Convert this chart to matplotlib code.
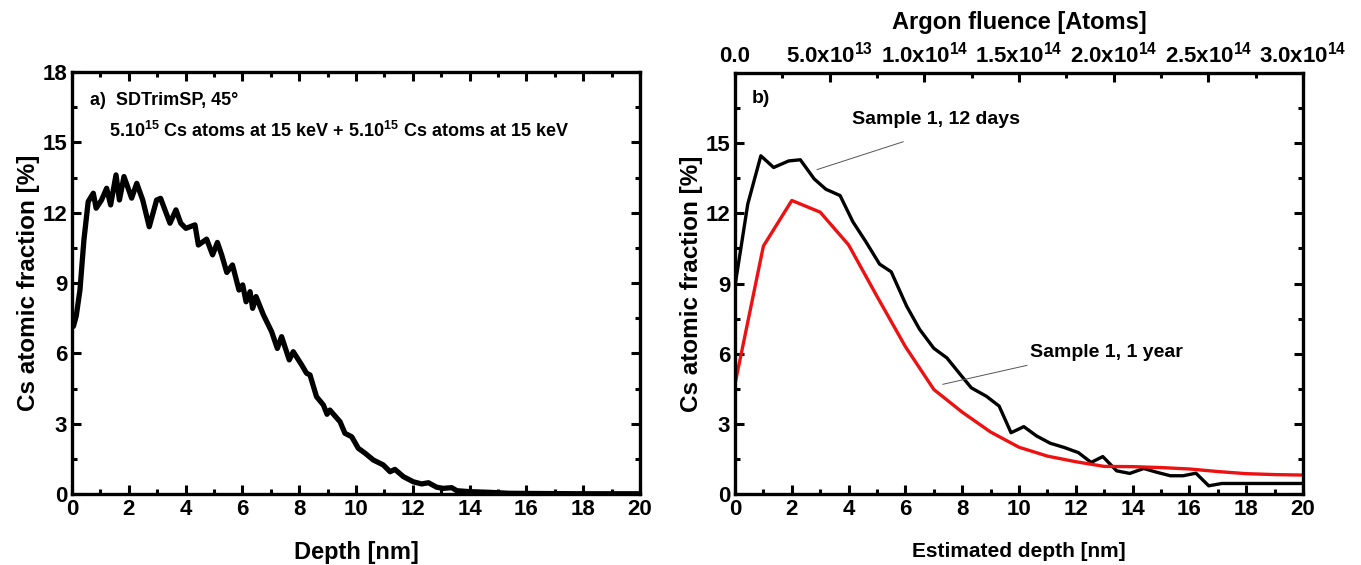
import matplotlib
matplotlib.use("Agg")
import matplotlib.pyplot as plt
from matplotlib.ticker import MultipleLocator, FixedLocator

plt.rcParams['font.family'] = ['Liberation Sans', 'DejaVu Sans']
plt.rcParams['font.weight'] = 'bold'
plt.rcParams['mathtext.fontset'] = 'custom'
plt.rcParams['mathtext.rm'] = 'Liberation Sans:bold'
plt.rcParams['mathtext.bf'] = 'Liberation Sans:bold'
plt.rcParams['mathtext.it'] = 'Liberation Sans:bold'

# ---- Panel a) SDTrimSP simulation ----
sim_depth = [0.0, 0.05, 0.15, 0.28, 0.42, 0.57, 0.75, 0.85, 1.04, 1.22, 1.36, 1.55, 1.67,
             1.83, 2.1, 2.28, 2.49, 2.72, 2.98, 3.12, 3.45, 3.66, 3.83, 4.01, 4.33, 4.45,
             4.74, 4.95, 5.12, 5.27, 5.45, 5.65, 5.88, 6.01, 6.13, 6.27, 6.36, 6.48, 6.74,
             7.03, 7.23, 7.38, 7.65, 7.79, 8.09, 8.26, 8.38, 8.61, 8.85, 8.98, 9.08, 9.44,
             9.61, 9.85, 10.08, 10.32, 10.61, 10.96, 11.2, 11.37, 11.67, 12.02, 12.31,
             12.55, 12.84, 13.07, 13.37, 13.55, 14.01, 14.72, 15.4, 16.5, 18.0, 20.0]
sim_frac = [7.4, 7.15, 7.6, 8.7, 10.84, 12.47, 12.83, 12.19, 12.54, 13.04, 12.33, 13.61, 12.54,
            13.54, 12.62, 13.25, 12.54, 11.4, 12.54, 12.61, 11.55, 12.12, 11.55, 11.33, 11.48,
            10.62, 10.87, 10.2, 10.73, 10.2, 9.45, 9.77, 8.7, 8.92, 8.2, 8.63, 7.92, 8.42, 7.64,
            6.92, 6.21, 6.71, 5.72, 6.07, 5.5, 5.15, 5.08, 4.15, 3.8, 3.4, 3.58, 3.08,
            2.59, 2.44, 1.95, 1.74, 1.45, 1.24, 0.95, 1.05, 0.74, 0.52, 0.43,
            0.48, 0.29, 0.24, 0.27, 0.14, 0.1, 0.07, 0.03, 0.02, 0.01, 0.01]

# ---- Panel b) measured profiles ----
days12_depth = [0.0, 0.45, 0.91, 1.36, 1.89, 2.3, 2.79, 3.2, 3.7, 4.15, 4.6, 5.09, 5.5, 6.04,
                6.5, 7.0, 7.46, 7.94, 8.32, 8.85, 9.3, 9.72, 10.17, 10.62, 11.1, 11.59,
                12.09, 12.54, 12.95, 13.44, 13.9, 14.39, 14.88, 15.33, 15.78, 16.23, 16.68,
                17.14, 20.0]
days12_frac = [8.9, 12.4, 14.46, 13.96, 14.24, 14.29, 13.47, 13.03, 12.76, 11.64, 10.8, 9.83,
               9.5, 8.04, 7.04, 6.23, 5.82, 5.1, 4.54, 4.18, 3.76, 2.62, 2.88, 2.48, 2.17,
               1.99, 1.77, 1.35, 1.6, 0.99, 0.88, 1.09, 0.92, 0.78, 0.78, 0.89, 0.35, 0.45, 0.45]
year1_depth = list(range(0, 21))
year1_frac = [4.7, 10.6, 12.55, 12.05, 10.65, 8.45, 6.3, 4.47, 3.5, 2.65, 2.0, 1.62, 1.38,
              1.18, 1.17, 1.13, 1.07, 0.96, 0.87, 0.83, 0.81]

fluence_ticks = [0.0, 5.0e13, 1.0e14, 1.5e14, 2.0e14, 2.5e14, 3.0e14]
fluence_labels = ['0.0', '5.0x10$^{13}$', '1.0x10$^{14}$', '1.5x10$^{14}$',
                  '2.0x10$^{14}$', '2.5x10$^{14}$', '3.0x10$^{14}$']
y_ticks = [0, 3, 6, 9, 12, 15, 18]
y_ticks_b = [0, 3, 6, 9, 12, 15]
x_ticks = [0, 2, 4, 6, 8, 10, 12, 14, 16, 18, 20]

W, H = 1361, 565
fig = plt.figure(figsize=(W / 100, H / 100), dpi=100)

def px_axes(l, t, r, b):
    return fig.add_axes([l / W, 1 - b / H, (r - l) / W, (b - t) / H])

TICK_FS = 16
LABEL_FS = 17

def style(ax):
    for s in ax.spines.values():
        s.set_linewidth(2.4)
    ax.tick_params(which='both', direction='in', top=True, right=True, width=2.2,
                   labelsize=TICK_FS)
    ax.tick_params(which='major', length=6.5)
    ax.tick_params(which='minor', length=3.5)
    ax.xaxis.set_minor_locator(MultipleLocator(1))
    ax.yaxis.set_minor_locator(MultipleLocator(1.5))
    for lab in ax.get_xticklabels() + ax.get_yticklabels():
        lab.set_fontweight('bold')

# Panel a
axa = px_axes(72, 72, 640, 494)
axa.plot(sim_depth, sim_frac, color='black', lw=3.8, solid_joinstyle='round')
axa.set_xlim(0, 20)
axa.set_ylim(0, 18)
axa.set_xticks(x_ticks)
axa.set_yticks(y_ticks)
style(axa)
axa.set_xlabel('Depth [nm]', fontsize=LABEL_FS, fontweight='bold', labelpad=15)
axa.set_ylabel('Cs atomic fraction [%]', fontsize=LABEL_FS + 0.5, fontweight='bold', labelpad=2)
axa.text(0.032, 0.932, 'a)  SDTrimSP, 45°', transform=axa.transAxes, fontsize=13,
         fontweight='bold', va='center', ha='left')
axa.text(0.066, 0.86, '5.10$^{15}$ Cs atoms at 15 keV + 5.10$^{15}$ Cs atoms at 15 keV',
         transform=axa.transAxes, fontsize=13, fontweight='bold', va='center', ha='left')

# Panel b
axb = px_axes(735, 73, 1303, 494)
axb.plot(days12_depth, days12_frac, color='black', lw=2.4)
axb.plot(year1_depth, year1_frac, color='#ee1111', lw=2.4)
axb.set_xlim(0, 20)
axb.set_ylim(0, 18)
axb.set_xticks(x_ticks)
axb.set_yticks(y_ticks_b)
style(axb)
axb.set_xlabel('Estimated depth [nm]', fontsize=15, fontweight='bold', labelpad=16)
axb.set_ylabel('Cs atomic fraction [%]', fontsize=LABEL_FS + 0.5, fontweight='bold', labelpad=2)
axb.text(0.03, 0.94, 'b)', transform=axb.transAxes, fontsize=14, fontweight='bold',
         va='center', ha='left')
axb.text(4.12, 16.0, 'Sample 1, 12 days', fontsize=14, fontweight='bold', va='center', ha='left')
axb.plot([5.92, 2.89], [15.06, 13.87], color='#555555', lw=0.7)
axb.text(10.39, 6.06, 'Sample 1, 1 year', fontsize=14, fontweight='bold', va='center', ha='left')
axb.plot([10.28, 7.32], [5.5, 4.69], color='#555555', lw=0.7)

top = axb.twiny()
top.set_xlim(0, 3.0e14)
top.xaxis.set_major_locator(FixedLocator(fluence_ticks))
top.set_xticklabels(fluence_labels)
top.xaxis.set_minor_locator(MultipleLocator(2.5e13))
top.tick_params(which='both', direction='in', width=2.2, labelsize=TICK_FS, pad=4)
top.tick_params(which='major', length=6.5)
top.tick_params(which='minor', length=3.5)
for lab in top.get_xticklabels():
    lab.set_fontweight('bold')
top.set_xlabel('Argon fluence [Atoms]', fontsize=LABEL_FS, fontweight='bold', labelpad=9)

fig.savefig('out.png', dpi=100)
